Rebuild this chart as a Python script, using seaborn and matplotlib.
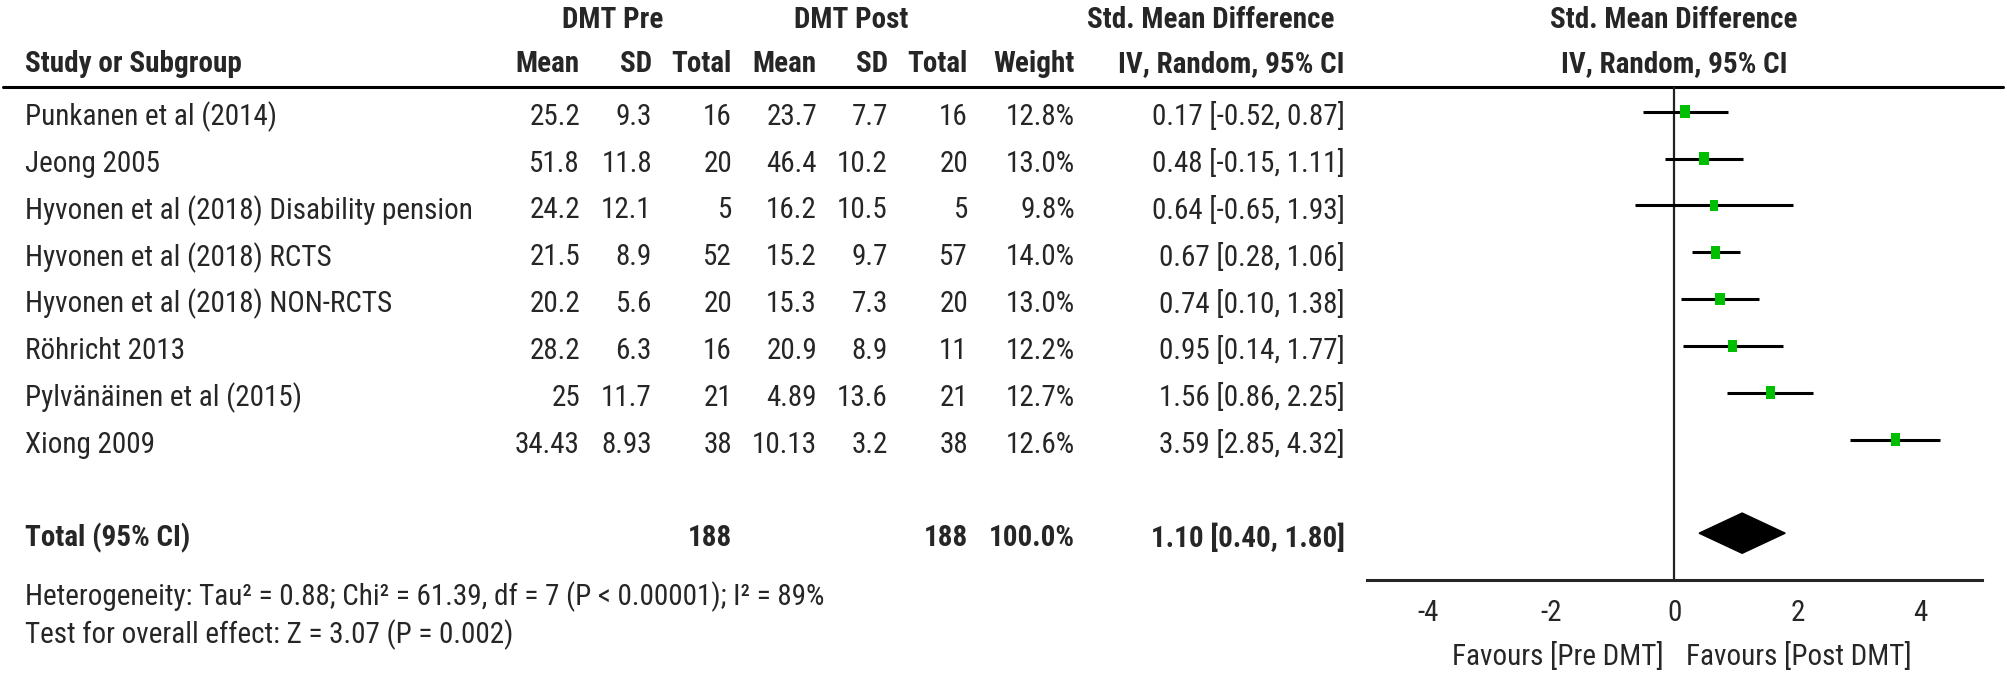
import numpy as np
import pandas as pd
import matplotlib
matplotlib.use('Agg')
import matplotlib.pyplot as plt
import matplotlib.transforms as mtransforms
import seaborn as sns

# Данные
studies = ['Punkanen et al (2014)', 'Jeong 2005', 'Hyvonen et al (2018) Disability pension',
           'Hyvonen et al (2018) RCTS', 'Hyvonen et al (2018) NON-RCTS', 'Röhricht 2013',
           'Pylvänäinen et al (2015)', 'Xiong 2009']
pre_mean = [25.2, 51.8, 24.2, 21.5, 20.2, 28.2, 25, 34.43]
pre_sd = [9.3, 11.8, 12.1, 8.9, 5.6, 6.3, 11.7, 8.93]
pre_n = [16, 20, 5, 52, 20, 16, 21, 38]
post_mean = [23.7, 46.4, 16.2, 15.2, 15.3, 20.9, 4.89, 10.13]
post_sd = [7.7, 10.2, 10.5, 9.7, 7.3, 8.9, 13.6, 3.2]
post_n = [16, 20, 5, 57, 20, 11, 21, 38]
weight = [12.8, 13.0, 9.8, 14.0, 13.0, 12.2, 12.7, 12.6]
smd = [0.17, 0.48, 0.64, 0.67, 0.74, 0.95, 1.56, 3.59]
ci_lo = [-0.52, -0.15, -0.65, 0.28, 0.10, 0.14, 0.86, 2.85]
ci_hi = [0.87, 1.11, 1.93, 1.06, 1.38, 1.77, 2.25, 4.32]

total_pre_n = 188
total_post_n = 188
total_weight = 100.0
total_smd = 1.10
total_lo = 0.40
total_hi = 1.80

heterogeneity = 'Heterogeneity: Tau² = 0.88; Chi² = 61.39, df = 7 (P < 0.00001); I² = 89%'
overall = 'Test for overall effect: Z = 3.07 (P = 0.002)'
x_ticks = [-4, -2, 0, 2, 4]

df = pd.DataFrame({'study': studies, 'smd': smd, 'lo': ci_lo, 'hi': ci_hi,
                   'weight': weight, 'row': np.arange(len(studies))})
total_row = len(studies) + 1

sns.set_style('white')
plt.rcParams['font.family'] = ['Roboto Condensed', 'DejaVu Sans']
FS = 21

fig = plt.figure(figsize=(20.08, 6.74), dpi=100)
tab = fig.add_axes([0, 0, 1, 1])
tab.set_xlim(0, 2008)
tab.set_ylim(674, 0)
tab.axis('off')

ax = fig.add_axes([1367 / 2008, 1 - 580 / 674, (1982 - 1367) / 2008, (580 - 87) / 674])
ax.patch.set_alpha(0)
ax.set_xlim(-5, 5)
ax.set_ylim(total_row + 1, -0.53)

# Форест-плот
ax.axvline(0, color='#222222', lw=1.6, zorder=1)
ax.hlines(df['row'], df['lo'], df['hi'], color='black', lw=2.2, zorder=2)
rect = [(-0.72, -1), (0.72, -1), (0.72, 1), (-0.72, 1), (-0.72, -1)]
sns.scatterplot(data=df, x='smd', y='row', size='weight', sizes=(65, 90), marker=rect,
                color='#00bf00', linewidth=0, legend=False, ax=ax, zorder=3)
h = 0.43
ax.fill([total_lo, total_smd, total_hi, total_smd],
        [total_row, total_row - h, total_row, total_row + h], color='black', zorder=3)

for s in ['top', 'left', 'right']:
    ax.spines[s].set_visible(False)
ax.spines['bottom'].set_linewidth(2.2)
ax.set_yticks([])
ax.set_xticks(x_ticks)
ax.set_xticklabels([str(t) for t in x_ticks])
ax.tick_params(axis='x', direction='inout', length=19, width=1.8, labelsize=FS, pad=4)
ax.set_xlabel('')
ax.set_ylabel('')

fav = mtransforms.blended_transform_factory(ax.transData, tab.transData)
ax.text(-0.18, 657, 'Favours [Pre DMT]', transform=fav, ha='right', va='center', fontsize=FS)
ax.text(0.18, 657, 'Favours [Post DMT]', transform=fav, ha='left', va='center', fontsize=FS)

# Таблица
tab.plot([3, 2003], [87, 87], color='black', lw=2.2)
bold = dict(fontsize=FS, fontweight='bold')
tab.text(613, 20, 'DMT Pre', ha='center', va='center', **bold)
tab.text(851, 20, 'DMT Post', ha='center', va='center', **bold)
tab.text(1211, 20, 'Std. Mean Difference', ha='center', va='center', **bold)
tab.text(1674, 20, 'Std. Mean Difference', ha='center', va='center', **bold)
tab.text(1674, 64, 'IV, Random, 95% CI', ha='center', va='center', **bold)
tab.text(25, 64, 'Study or Subgroup', ha='left', va='center', **bold)
cols_x = [580, 652, 732, 817, 888, 968, 1075, 1345]
heads = ['Mean', 'SD', 'Total', 'Mean', 'SD', 'Total', 'Weight', 'IV, Random, 95% CI']
for x, t in zip(cols_x, heads):
    tab.text(x, 64, t, ha='right', va='center', **bold)

# строки таблицы чуть ниже центров маркеров, как в оригинале
row_tr = mtransforms.offset_copy(
    mtransforms.blended_transform_factory(tab.transData, ax.transData),
    fig=fig, y=-5, units='dots')
for i, r in df.iterrows():
    vals = [str(pre_mean[i]), str(pre_sd[i]), str(pre_n[i]), str(post_mean[i]),
            str(post_sd[i]), str(post_n[i]), '%.1f%%' % weight[i],
            '%.2f [%.2f, %.2f]' % (smd[i], ci_lo[i], ci_hi[i])]
    tab.text(25, r['row'], r['study'], transform=row_tr, ha='left', va='center', fontsize=FS)
    for x, v in zip(cols_x, vals):
        tab.text(x, r['row'], v, transform=row_tr, ha='right', va='center', fontsize=FS)

tab.text(25, total_row, 'Total (95% CI)', transform=row_tr, ha='left', va='center', **bold)
tot_vals = [(732, str(total_pre_n)), (968, str(total_post_n)), (1075, '%.1f%%' % total_weight),
            (1345, '%.2f [%.2f, %.2f]' % (total_smd, total_lo, total_hi))]
for x, v in tot_vals:
    tab.text(x, total_row, v, transform=row_tr, ha='right', va='center', **bold)

tab.text(25, 597, heterogeneity, ha='left', va='center', fontsize=FS)
tab.text(25, 635, overall, ha='left', va='center', fontsize=FS)

fig.savefig('out.png', dpi=100)
